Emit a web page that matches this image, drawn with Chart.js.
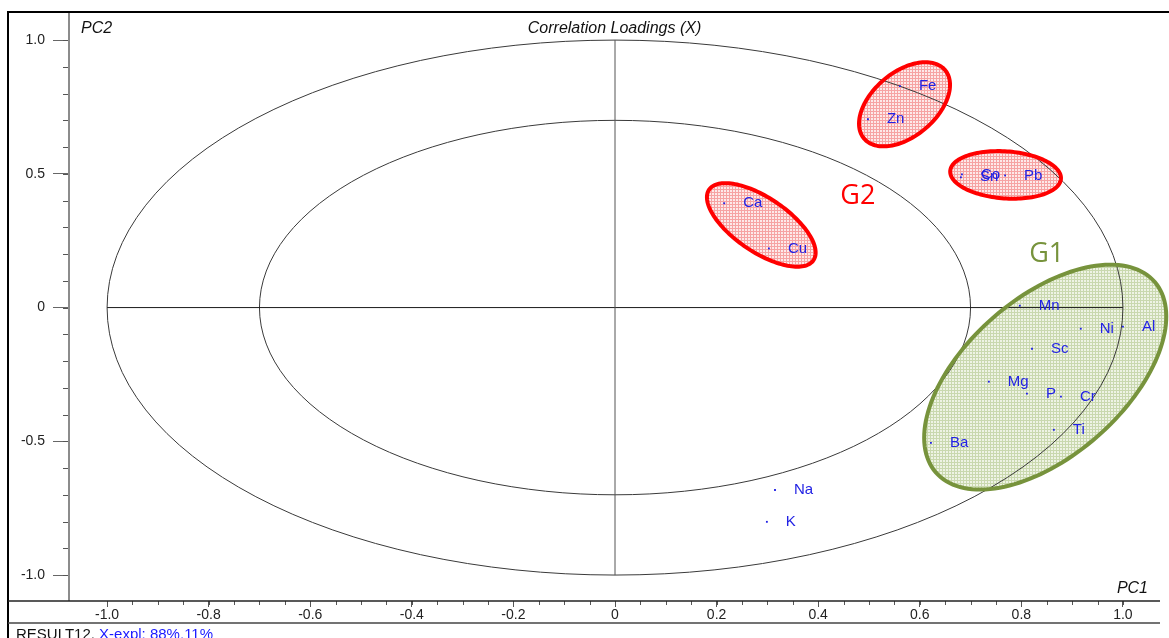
<!DOCTYPE html>
<html>
<head>
<meta charset="utf-8">
<script src="https://cdn.jsdelivr.net/npm/chart.js@4.4.1/dist/chart.umd.min.js"></script>
<style>
  html, body { margin: 0; padding: 0; background: #fff; overflow: hidden; }
  canvas { display: block; }
</style>
</head>
<body>
<canvas id="loadings" width="1169" height="638"></canvas>
<script>
// Correlation loadings of each element on PC1 / PC2
const elements = ['Fe', 'Zn', 'Co', 'Sn', 'Pb', 'Ca', 'Cu', 'Mn', 'Ni', 'Al', 'Sc', 'Mg', 'P', 'Cr', 'Ti', 'Ba', 'Na', 'K'];
const pc1 = [0.561, 0.498, 0.683, 0.681, 0.768, 0.215, 0.303, 0.797, 0.917, 1.000, 0.821, 0.736, 0.811, 0.878, 0.864, 0.622, 0.315, 0.299];
const pc2 = [0.828, 0.704, 0.498, 0.487, 0.494, 0.390, 0.221, 0.007, -0.079, -0.071, -0.154, -0.277, -0.322, -0.333, -0.457, -0.506, -0.682, -0.801];

// Axis ticks
const xTickValues = [-1.0, -0.8, -0.6, -0.4, -0.2, 0, 0.2, 0.4, 0.6, 0.8, 1.0];
const xTickLabels = ['-1.0', '-0.8', '-0.6', '-0.4', '-0.2', '0', '0.2', '0.4', '0.6', '0.8', '1.0'];
const yTickValues = [1.0, 0.5, 0, -0.5, -1.0];
const yTickLabels = ['1.0', '0.5', '0', '-0.5', '-1.0'];
const xMinorStep = 0.05;
const yMinorStep = 0.1;

// Explained-variance circles (100 % and 70 %)
const circleRadii = [1.0, 0.7];

// Group outlines: centre and the two half-axis vectors, in loading units
const groupOutlines = [
  { name: 'Fe-Zn',    center: [0.570, 0.760],  major: [0.0799, 0.1277],  minor: [0.0405, -0.0918],  kind: 'G2' },
  { name: 'Co-Sn-Pb', center: [0.769, 0.496],  major: [0.109, -0.0146],  minor: [-0.0032, -0.0878], kind: 'G2' },
  { name: 'Ca-Cu',    center: [0.288, 0.309],  major: [0.1028, -0.1318], minor: [-0.0297, -0.0839], kind: 'G2' },
  { name: 'G1',       center: [0.847, -0.260], major: [0.2154, 0.3562],  minor: [0.102, -0.2232],   kind: 'G1' }
];
const groupTags = [
  { text: 'G1', at: [0.850, 0.198], kind: 'G1' },
  { text: 'G2', at: [0.478, 0.416], kind: 'G2' }
];

const FONT = '"Liberation Sans", Arial, sans-serif';
const LABEL_BLUE = '#2222e4';
const groupStyle = {
  G1: { stroke: '#77933c', base: '#eef3e4', grid: '#c9d8ae' },
  G2: { stroke: '#ff0000', base: '#fde9e9', grid: '#f6a3a3' }
};

const canvas = document.getElementById('loadings');
const ctx2d = canvas.getContext('2d');

function hatch(base, line) {
  const tile = document.createElement('canvas');
  tile.width = 3; tile.height = 3;
  const g = tile.getContext('2d');
  g.fillStyle = base; g.fillRect(0, 0, 3, 3);
  g.fillStyle = line; g.fillRect(0, 0, 3, 1); g.fillRect(0, 0, 1, 3);
  return ctx2d.createPattern(tile, 'repeat');
}
const fills = { G1: hatch(groupStyle.G1.base, groupStyle.G1.grid), G2: hatch(groupStyle.G2.base, groupStyle.G2.grid) };

function outlinePath(ctx, x, y, g) {
  ctx.beginPath();
  const n = 144;
  for (let i = 0; i <= n; i++) {
    const t = (i / n) * Math.PI * 2;
    const vx = g.center[0] + g.major[0] * Math.cos(t) + g.minor[0] * Math.sin(t);
    const vy = g.center[1] + g.major[1] * Math.cos(t) + g.minor[1] * Math.sin(t);
    const px = x.getPixelForValue(vx), py = y.getPixelForValue(vy);
    if (i === 0) ctx.moveTo(px, py); else ctx.lineTo(px, py);
  }
  ctx.closePath();
}

const loadingPlot = {
  id: 'loadingPlot',
  beforeDatasetsDraw(chart) {
    const { ctx, scales: { x, y } } = chart;
    ctx.save();
    // group fills
    groupOutlines.forEach(g => {
      outlinePath(ctx, x, y, g);
      ctx.fillStyle = fills[g.kind];
      ctx.fill();
    });
    // circles
    const cx = x.getPixelForValue(0), cy = y.getPixelForValue(0);
    ctx.strokeStyle = '#3a3a3a';
    ctx.lineWidth = 1;
    circleRadii.forEach(r => {
      ctx.beginPath();
      ctx.ellipse(cx, cy, x.getPixelForValue(r) - cx, cy - y.getPixelForValue(r), 0, 0, Math.PI * 2);
      ctx.stroke();
    });
    // cross through the origin
    ctx.strokeStyle = '#1a1a1a';
    ctx.beginPath();
    ctx.moveTo(x.getPixelForValue(-1), cy); ctx.lineTo(x.getPixelForValue(1), cy);
    ctx.stroke();
    ctx.strokeStyle = '#555';
    ctx.beginPath();
    ctx.moveTo(cx, y.getPixelForValue(1)); ctx.lineTo(cx, y.getPixelForValue(-1));
    ctx.stroke();
    // group outlines
    groupOutlines.forEach(g => {
      outlinePath(ctx, x, y, g);
      ctx.strokeStyle = groupStyle[g.kind].stroke;
      ctx.lineWidth = 4;
      ctx.stroke();
    });
    ctx.restore();
  },
  afterDatasetsDraw(chart) {
    const { ctx, scales: { x, y } } = chart;
    ctx.save();
    ctx.font = '15px ' + FONT;
    ctx.fillStyle = LABEL_BLUE;
    ctx.textAlign = 'left';
    ctx.textBaseline = 'middle';
    elements.forEach((name, i) => {
      ctx.fillText(name, x.getPixelForValue(pc1[i]) + 19, y.getPixelForValue(pc2[i]));
    });
    ctx.font = '27px "Open Sans", ' + FONT;
    ctx.textAlign = 'center';
    groupTags.forEach(t => {
      ctx.fillStyle = groupStyle[t.kind].stroke;
      ctx.fillText(t.text, x.getPixelForValue(t.at[0]), y.getPixelForValue(t.at[1]));
    });
    ctx.restore();
  },
  afterDraw(chart) {
    const { ctx, chartArea: a, scales: { x, y } } = chart;
    ctx.save();
    // minor tick marks
    ctx.strokeStyle = '#555';
    ctx.lineWidth = 1;
    ctx.beginPath();
    for (let v = -1; v <= 1.0001; v += yMinorStep) {
      const py = Math.round(y.getPixelForValue(v)) + 0.5;
      ctx.moveTo(a.left - 6, py); ctx.lineTo(a.left, py);
    }
    for (let v = -1; v <= 1.0001; v += xMinorStep) {
      const px = Math.round(x.getPixelForValue(v)) + 0.5;
      ctx.moveTo(px, a.bottom); ctx.lineTo(px, a.bottom + 4);
    }
    ctx.stroke();
    // y axis line
    ctx.strokeStyle = '#8c8c8c';
    ctx.lineWidth = 2;
    ctx.beginPath(); ctx.moveTo(a.left, a.top); ctx.lineTo(a.left, a.bottom); ctx.stroke();
    // frame
    ctx.strokeStyle = '#000';
    ctx.lineWidth = 2;
    ctx.beginPath();
    ctx.moveTo(8, 638); ctx.lineTo(8, 12); ctx.lineTo(1169, 12);
    ctx.stroke();
    ctx.strokeStyle = '#222';
    ctx.lineWidth = 1.5;
    ctx.beginPath(); ctx.moveTo(8, a.bottom); ctx.lineTo(a.right, a.bottom); ctx.stroke();
    ctx.strokeStyle = '#444';
    ctx.beginPath(); ctx.moveTo(8, 623); ctx.lineTo(a.right, 623); ctx.stroke();
    // titles
    ctx.fillStyle = '#111';
    ctx.textBaseline = 'middle';
    ctx.font = 'italic 16px ' + FONT;
    ctx.textAlign = 'left';
    ctx.fillText('PC2', a.left + 12, 29);
    ctx.textAlign = 'center';
    ctx.fillText('Correlation Loadings (X)', (a.left + a.right) / 2, 29);
    ctx.textAlign = 'right';
    ctx.fillText('PC1', a.right - 12, 589);
    // footer
    ctx.textAlign = 'left';
    ctx.textBaseline = 'alphabetic';
    ctx.font = '15px ' + FONT;
    const lead = 'RESULT12, ';
    ctx.fillStyle = '#111';
    ctx.fillText(lead, 16, 639);
    ctx.fillStyle = '#1a1aff';
    ctx.fillText('X-expl: 88%,11%', 16 + ctx.measureText(lead).width, 639);
    ctx.restore();
  }
};

new Chart(ctx2d, {
  type: 'scatter',
  data: {
    datasets: [{
      data: elements.map((e, i) => ({ x: pc1[i], y: pc2[i] })),
      pointStyle: 'rect',
      pointRadius: 1.3,
      pointBackgroundColor: '#2222e4',
      pointBorderWidth: 0
    }]
  },
  options: {
    responsive: false,
    animation: false,
    devicePixelRatio: 1,
    layout: { padding: { left: 0, top: 12, right: 9, bottom: 14 } },
    plugins: { legend: { display: false }, tooltip: { enabled: false } },
    scales: {
      x: {
        type: 'linear', position: 'bottom', min: -1.075, max: 1.073,
        afterBuildTicks: s => { s.ticks = xTickValues.map(v => ({ value: v })); },
        afterFit: s => { s.height = 23; s.paddingLeft = 0; s.paddingRight = 0; },
        grid: { drawOnChartArea: false, drawTicks: true, tickLength: 6, color: '#555' },
        border: { display: false },
        ticks: {
          autoSkip: false, maxRotation: 0, padding: 0,
          color: '#222', font: { family: FONT, size: 14 },
          callback: (v, i) => xTickLabels[i]
        }
      },
      y: {
        type: 'linear', position: 'left', min: -1.097, max: 1.105,
        afterBuildTicks: s => { s.ticks = yTickValues.map(v => ({ value: v })); },
        afterFit: s => { s.width = 69; s.paddingTop = 0; s.paddingBottom = 0; },
        grid: { drawOnChartArea: false, drawTicks: true, tickLength: 16, color: '#666' },
        border: { display: false },
        ticks: {
          autoSkip: false, padding: 8,
          color: '#222', font: { family: FONT, size: 14 },
          callback: (v, i) => yTickLabels[i]
        }
      }
    }
  },
  plugins: [loadingPlot]
});
</script>
</body>
</html>
